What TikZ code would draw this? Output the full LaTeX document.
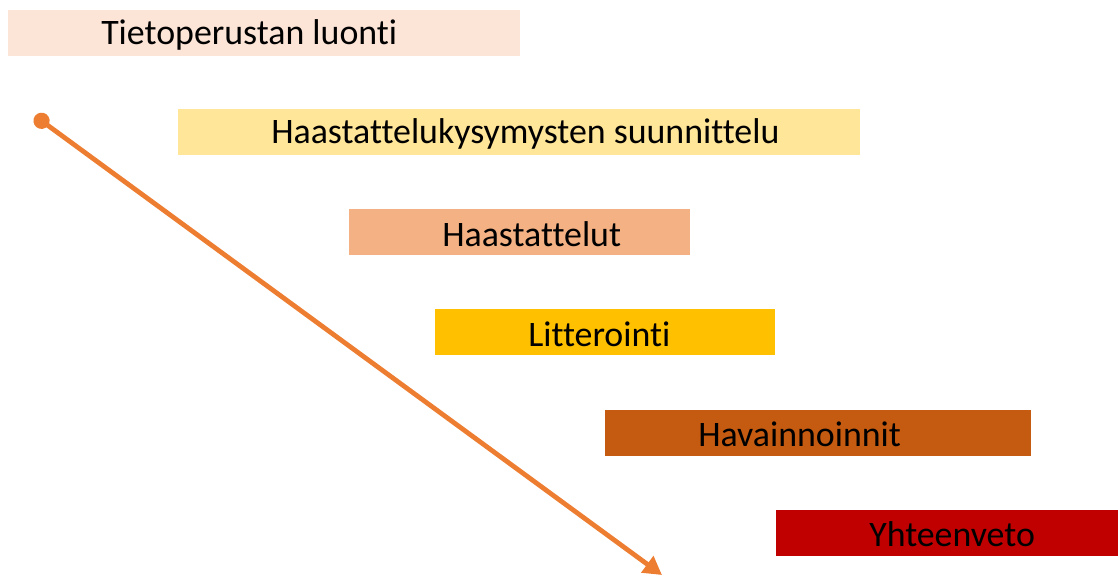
\documentclass[tikz,border=0pt]{standalone}
\usepackage{fontspec}
\setmainfont{Carlito}[Ligatures=NoCommon]
\usetikzlibrary{arrows.meta}
\definecolor{peach}{HTML}{FCE4D6}
\definecolor{lightgold}{HTML}{FFE699}
\definecolor{salmon}{HTML}{F4B183}
\definecolor{gold}{HTML}{FFC000}
\definecolor{rust}{HTML}{C55A11}
\definecolor{darkred}{HTML}{C00000}
\definecolor{arroworange}{HTML}{ED7D31}
\tikzset{
    phase/.style={anchor=west,minimum height=46*0.025cm,inner sep=0pt},
    phaselabel/.style={anchor=west,inner sep=0pt,font=\fontsize{25.5}{29}\selectfont},
    flow/.style={arroworange,line width=3.4pt,{Circle[length=11.5pt]}-{Triangle[length=13pt,width=14pt]}}
}
\begin{document}
\begin{tikzpicture}[x=0.025cm,y=-0.025cm]
        \useasboundingbox (0,0) rectangle (1118,575);
        \foreach \x/\y/\w/\n/\c/\l in {8/32.5/512/luonti/peach/Tietoperustan luonti,178/132/682/suunnittelu/lightgold/Haastattelukysymysten suunnittelu,349/232/341/haastattelut/salmon/Haastattelut,435/332/340/litterointi/gold/Litterointi,605/432.5/426/havainnoinnit/rust/Havainnoinnit,776/532.5/342/yhteenveto/darkred/Yhteenveto}{
            \node[phase,fill=\c,minimum width=\w*0.025cm] (\n) at (\x,\y) {};
            \node[phaselabel] (\n-l) at ([xshift=93*0.025cm,yshift=-2*0.025cm]\n.west) {\l};
        }
        \coordinate (alku) at (35,116);
        \coordinate (loppu) at (662,575);
        \draw[flow] (alku) -- (loppu);
    \end{tikzpicture}
\end{document}
